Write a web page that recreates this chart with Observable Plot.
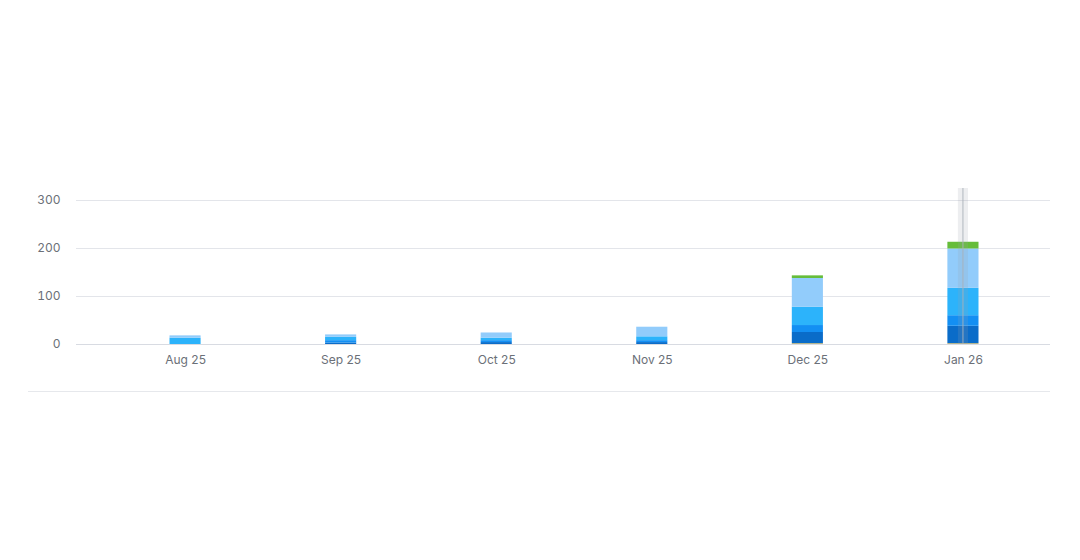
<!DOCTYPE html>
<html>
<head>
<meta charset="utf-8">
<script src="https://cdn.jsdelivr.net/npm/d3@7"></script>
<script src="https://cdn.jsdelivr.net/npm/@observablehq/plot@0.6"></script>
<style>
  html, body { margin: 0; padding: 0; background: #ffffff; }
  body { width: 1080px; height: 560px; position: relative; overflow: hidden; font-family: Inter, "Noto Sans", sans-serif; }
  #chart { position: absolute; left: 0; top: 0; }
  #sep { position: absolute; left: 28px; top: 391px; width: 1022px; height: 1px; background: #e6e8ec; }
</style>
</head>
<body>
<div id="chart"></div>
<div id="sep"></div>
<script>
const months = ["Aug 25", "Sep 25", "Oct 25", "Nov 25", "Dec 25", "Jan 26"];
const seriesNames = ["Yellow", "Dark blue", "Blue", "Medium blue", "Light blue", "Green"];
const seriesColors = ["#f6c243", "#0a6cc9", "#138ff3", "#2cb3fb", "#92ccfb", "#66bd3a"];
const yellowVals     = [0, 0, 0, 0, 1.5, 1.5];
const darkBlueVals   = [0, 3, 4, 4, 23.5, 36.5];
const blueVals       = [0, 5, 4, 4, 14.5, 22];
const mediumBlueVals = [13, 7, 5, 8, 38, 57];
const lightBlueVals  = [5, 5, 11, 20, 60, 82];
const greenVals      = [0, 0, 0, 0, 5.5, 14];
const yTicks = [0, 100, 200, 300];
const highlightMonth = "Jan 26";
const highlightTop = 325;

const seriesValues = [yellowVals, darkBlueVals, blueVals, mediumBlueVals, lightBlueVals, greenVals];
const data = [];
months.forEach((m, i) => {
  seriesNames.forEach((s, j) => {
    data.push({month: m, series: s, value: seriesValues[j][i]});
  });
});

const chart = Plot.plot({
  width: 1080,
  height: 560,
  marginLeft: 76,
  marginRight: 30,
  marginTop: 200,
  marginBottom: 216,
  style: {fontFamily: "Inter, 'Noto Sans', sans-serif", fontSize: "12px", color: "#6b7078", background: "transparent"},
  x: {type: "band", domain: months, range: [169.5, 978.5], paddingInner: 0.8, paddingOuter: 0, round: false, label: null, tickSize: 0, tickPadding: 11},
  y: {domain: [0, 300], ticks: yTicks, label: null, tickSize: 0, tickPadding: 16, grid: true},
  color: {domain: seriesNames, range: seriesColors},
  marks: [
    Plot.gridY(yTicks, {stroke: "#e3e5ea", strokeOpacity: 1}),
    Plot.ruleY([0], {stroke: "#d8dbe2"}),
    Plot.barY(data, {x: "month", y: "value", fill: "series", order: seriesNames}),
    Plot.barY([{month: highlightMonth, top: highlightTop}], {x: "month", y1: 0, y2: "top", fill: "#9aa3ad", fillOpacity: 0.18, insetLeft: 10.5, insetRight: 10.5}),
    Plot.barY([{month: highlightMonth, top: highlightTop}], {x: "month", y1: 0, y2: "top", fill: "#a9b0b8", fillOpacity: 0.8, insetLeft: 15, insetRight: 15})
  ]
});
document.getElementById("chart").appendChild(chart);
</script>
</body>
</html>
